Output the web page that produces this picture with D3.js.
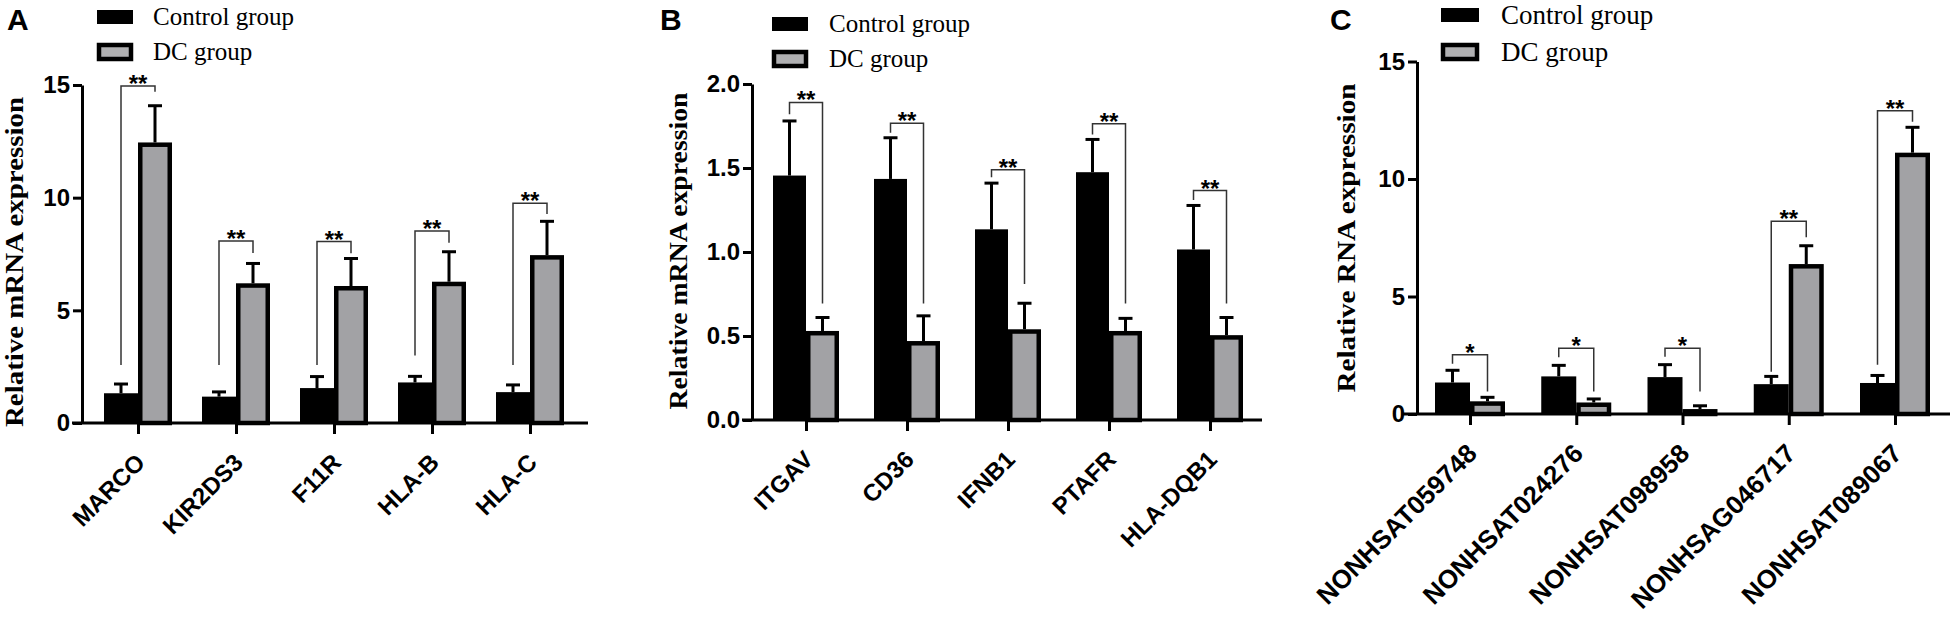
<!DOCTYPE html>
<html>
<head>
<meta charset="utf-8">
<script src="https://cdn.jsdelivr.net/npm/d3@7"></script>
<style>
body { margin: 0; background: #fff; }
.tick text { font-family: "Liberation Sans", Arial, sans-serif; font-weight: bold; font-size: 24px; fill: #000; }
.axis path, .axis line { stroke: #000; stroke-width: 3; }
.legend text { font-family: "Liberation Serif", "Times New Roman", serif; fill: #000; }
.ytitle { font-family: "Liberation Serif", "Times New Roman", serif; font-weight: bold; }
.letter { font-family: "Liberation Sans", Arial, sans-serif; font-weight: bold; font-size: 30px; }
.star { font-family: "Liberation Sans", Arial, sans-serif; font-weight: bold; font-size: 24px; }
</style>
</head>
<body>
<script>
// Panel A
var genesA = ["MARCO", "KIR2DS3", "F11R", "HLA-B", "HLA-C"];
var ctrlA = [1.32, 1.17, 1.55, 1.8, 1.37],
    ctrlErrA = [0.41, 0.21, 0.51, 0.27, 0.32],
    dcA = [12.45, 6.2, 6.08, 6.27, 7.45],
    dcErrA = [1.63, 0.88, 1.22, 1.33, 1.5];
var sigA = ["**", "**", "**", "**", "**"],
    brTopA = [14.96, 8.08, 8.05, 8.52, 9.75],
    brLeftA = [2.57, 2.57, 2.57, 3.0, 2.57],
    brRightA = [14.7, 7.54, 7.53, 8.0, 9.28];
var ticksA = [0, 5, 10, 15];

// Panel B
var genesB = ["ITGAV", "CD36", "IFNB1", "PTAFR", "HLA-DQB1"];
var ctrlB = [1.455, 1.435, 1.135, 1.475, 1.015],
    ctrlErrB = [0.325, 0.245, 0.275, 0.195, 0.262],
    dcB = [0.53, 0.47, 0.54, 0.53, 0.505],
    dcErrB = [0.08, 0.15, 0.155, 0.075, 0.105];
var sigB = ["**", "**", "**", "**", "**"],
    brTopB = [1.89, 1.767, 1.49, 1.763, 1.366],
    brLeftB = [1.82, 1.71, 1.445, 1.70, 1.31],
    brRightB = [0.693, 0.693, 0.81, 0.693, 0.694];
var ticksB = [0, 0.5, 1, 1.5, 2];

// Panel C
var genesC = ["NONHSAT059748", "NONHSAT024276", "NONHSAT098958", "NONHSAG046717", "NONHSAT089067"];
var ctrlC = [1.34, 1.6, 1.57, 1.27, 1.32],
    ctrlErrC = [0.52, 0.47, 0.53, 0.33, 0.32],
    dcC = [0.54, 0.49, 0.21, 6.38, 11.12],
    dcErrC = [0.17, 0.15, 0.14, 0.78, 1.08];
var sigC = ["*", "*", "*", "**", "**"],
    brTopC = [2.52, 2.8, 2.8, 8.2, 12.9],
    brLeftC = [2.14, 2.42, 2.44, 1.8, 2.1],
    brRightC = [0.96, 0.96, 0.96, 7.52, 12.44];
var ticksC = [0, 5, 10, 15];

var legendLabels = ["Control group", "DC group"];

var gray = "#a2a2a5";

var svg = d3.select("body").append("svg")
    .attr("width", 1955)
    .attr("height", 617);

function drawPanel(p) {
  var g = svg.append("g");

  var y = d3.scaleLinear().domain([0, p.ymax]).range([p.base, p.top]);
  var x = d3.scalePoint().domain(p.genes).range([p.first, p.last]);
  var hw = p.barW;
  var sw = 4.5;

  // control bars
  g.selectAll(".ctrl")
      .data(p.ctrl)
    .enter().append("rect")
      .attr("x", function(d, i) { return x(p.genes[i]) - hw; })
      .attr("y", function(d) { return y(d); })
      .attr("width", hw)
      .attr("height", function(d) { return p.base - y(d); })
      .style("fill", "#000");

  // DC bars, gray with a heavy border
  g.selectAll(".dc")
      .data(p.dc)
    .enter().append("rect")
      .attr("x", function(d, i) { return x(p.genes[i]) + sw / 2; })
      .attr("y", function(d) { return y(d) + sw / 2; })
      .attr("width", hw - sw)
      .attr("height", function(d) { return p.base - y(d) - sw / 2; })
      .style("fill", gray)
      .style("stroke", "#000")
      .style("stroke-width", sw);

  // error bars (upper only)
  function errBars(vals, errs, off) {
    var eg = g.selectAll(null).data(vals).enter().append("g");
    eg.append("line")
        .attr("x1", function(d, i) { return x(p.genes[i]) + off; })
        .attr("x2", function(d, i) { return x(p.genes[i]) + off; })
        .attr("y1", function(d) { return y(d); })
        .attr("y2", function(d, i) { return y(d + errs[i]); });
    eg.append("line")
        .attr("x1", function(d, i) { return x(p.genes[i]) + off - 7; })
        .attr("x2", function(d, i) { return x(p.genes[i]) + off + 7; })
        .attr("y1", function(d, i) { return y(d + errs[i]); })
        .attr("y2", function(d, i) { return y(d + errs[i]); });
    eg.selectAll("line").style("stroke", "#000").style("stroke-width", 3);
  }
  errBars(p.ctrl, p.ctrlErr, -hw / 2);
  errBars(p.dc, p.dcErr, hw / 2);

  // significance brackets
  g.selectAll(".bracket")
      .data(p.brTop)
    .enter().append("path")
      .attr("d", function(d, i) {
        var c = x(p.genes[i]);
        return "M" + (c - hw / 2) + "," + y(p.brLeft[i]) +
               "V" + y(d) + "H" + (c + hw / 2) + "V" + y(p.brRight[i]);
      })
      .style("fill", "none")
      .style("stroke", "#333")
      .style("stroke-width", 1.5);

  g.selectAll(".star")
      .data(p.brTop)
    .enter().append("text")
      .attr("class", "star")
      .attr("x", function(d, i) { return x(p.genes[i]); })
      .attr("y", function(d) { return y(d) + 6; })
      .attr("text-anchor", "middle")
      .text(function(d, i) { return p.sig[i]; });

  // y axis
  g.append("g")
      .attr("class", "axis")
      .attr("transform", "translate(" + p.axisX + ",0)")
      .call(d3.axisLeft(y).tickValues(p.ticks).tickFormat(d3.format(p.fmt))
        .tickSize(9).tickPadding(3).tickSizeOuter(0));

  // x axis
  var xa = g.append("g")
      .attr("class", "axis")
      .attr("transform", "translate(0," + p.base + ")")
      .call(d3.axisBottom(x).tickSize(11).tickSizeOuter(0));
  xa.select(".domain").remove();
  xa.append("line")
      .attr("x1", p.xStart)
      .attr("x2", p.xEnd);
  xa.selectAll(".tick text")
      .attr("x", 0)
      .attr("y", 0)
      .attr("dy", 0)
      .attr("transform", "translate(8,41) rotate(-45)")
      .style("font-size", p.xFs + "px")
      .style("text-anchor", "end");

  // y title
  g.append("text")
      .attr("class", "ytitle")
      .attr("transform", "translate(" + p.titleX + "," + p.titleY + ") rotate(-90)")
      .attr("text-anchor", "middle")
      .attr("textLength", p.titleLen)
      .attr("lengthAdjust", "spacingAndGlyphs")
      .style("font-size", p.titleFs + "px")
      .text(p.title);

  // panel letter
  g.append("text")
      .attr("class", "letter")
      .attr("x", p.letterX)
      .attr("y", 30)
      .text(p.letter);

  // legend
  var lg = g.append("g").attr("class", "legend");
  lg.append("rect")
      .attr("x", p.legX)
      .attr("y", p.legY[0] - 7)
      .attr("width", p.legW)
      .attr("height", 14)
      .style("fill", "#000");
  lg.append("rect")
      .attr("x", p.legX + 2)
      .attr("y", p.legY[1] - 7)
      .attr("width", p.legW - 4)
      .attr("height", 14)
      .style("fill", "#b0b0b2")
      .style("stroke", "#000")
      .style("stroke-width", 4.5);
  lg.selectAll(".lt")
      .data(legendLabels)
    .enter().append("text")
      .attr("x", p.legTextX)
      .attr("y", function(d, i) { return p.legY[i] + p.legFs * 0.33; })
      .style("font-size", p.legFs + "px")
      .text(String);
}

drawPanel({
  genes: genesA, ctrl: ctrlA, ctrlErr: ctrlErrA, dc: dcA, dcErr: dcErrA,
  sig: sigA, brTop: brTopA, brLeft: brLeftA, brRight: brRightA,
  ticks: ticksA, fmt: "d", ymax: 15,
  base: 423, top: 85, first: 138, last: 530, barW: 34,
  axisX: 82, xStart: 72, xEnd: 588, xFs: 24,
  title: "Relative mRNA expression", titleX: 23, titleY: 262, titleLen: 330, titleFs: 25,
  letter: "A", letterX: 7,
  legX: 97, legW: 36, legY: [17, 52], legTextX: 153, legFs: 25
});

drawPanel({
  genes: genesB, ctrl: ctrlB, ctrlErr: ctrlErrB, dc: dcB, dcErr: dcErrB,
  sig: sigB, brTop: brTopB, brLeft: brLeftB, brRight: brRightB,
  ticks: ticksB, fmt: ".1f", ymax: 2,
  base: 420, top: 84, first: 806, last: 1210, barW: 33,
  axisX: 752, xStart: 742, xEnd: 1262, xFs: 24,
  title: "Relative mRNA expression", titleX: 687, titleY: 251, titleLen: 317, titleFs: 26,
  letter: "B", letterX: 660,
  legX: 772, legW: 36, legY: [24, 59], legTextX: 829, legFs: 25
});

drawPanel({
  genes: genesC, ctrl: ctrlC, ctrlErr: ctrlErrC, dc: dcC, dcErr: dcErrC,
  sig: sigC, brTop: brTopC, brLeft: brLeftC, brRight: brRightC,
  ticks: ticksC, fmt: "d", ymax: 15,
  base: 414, top: 61.5, first: 1470, last: 1895, barW: 35,
  axisX: 1417, xStart: 1403, xEnd: 1950, xFs: 26,
  title: "Relative RNA expression", titleX: 1355, titleY: 238, titleLen: 309, titleFs: 26,
  letter: "C", letterX: 1330,
  legX: 1441, legW: 38, legY: [15, 52], legTextX: 1501, legFs: 27
});
</script>
</body>
</html>
